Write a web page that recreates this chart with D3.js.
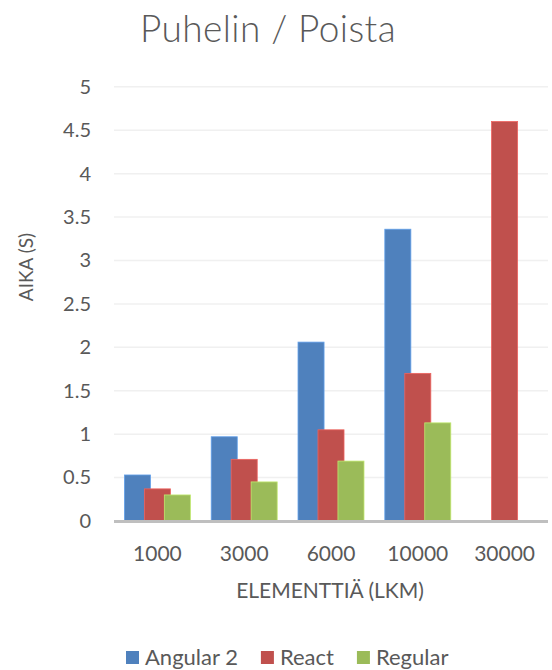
<!DOCTYPE html>
<html>
<head>
<meta charset="utf-8">
<script src="https://cdn.jsdelivr.net/npm/d3@7"></script>
<style>
  html, body { margin: 0; padding: 0; background: #fff; }
  svg text { font-family: Lato, "Open Sans", sans-serif; fill: #595959; }
</style>
</head>
<body>
<div id="chart"></div>
<script>
const title = "Puhelin / Poista";
const categories = ["1000", "3000", "6000", "10000", "30000"];
const seriesNames = ["Angular 2", "React", "Regular"];
const angularValues = [0.53, 0.97, 2.06, 3.36, null];
const reactValues = [0.37, 0.71, 1.05, 1.70, 4.60];
const regularValues = [0.30, 0.45, 0.69, 1.13, null];
const yTicks = [0, 0.5, 1, 1.5, 2, 2.5, 3, 3.5, 4, 4.5, 5];
const xAxisTitle = "ELEMENTTIÄ (LKM)";
const yAxisTitle = "AIKA (S)";

const seriesValues = [angularValues, reactValues, regularValues];
const colors = ["#4F81BD", "#C0504D", "#9BBB59"];

const W = 552, H = 670;
const plot = { left: 114, right: 548, top: 86.8, bottom: 521 };

const svg = d3.select("#chart").append("svg")
  .attr("width", W).attr("height", H);

const x = d3.scaleBand().domain(categories).range([plot.left, plot.right]).padding(0);
const y = d3.scaleLinear().domain([0, 5]).range([plot.bottom, plot.top]);

// Gridlines
svg.append("g").selectAll("line").data(yTicks.filter(d => d > 0)).join("line")
  .attr("x1", plot.left).attr("x2", plot.right)
  .attr("y1", d => y(d)).attr("y2", d => y(d))
  .attr("stroke", "#f0f0f0").attr("stroke-width", 1.5);

// Bars
const bw = x.bandwidth();
const barW = bw * 0.30;
const step = bw * 0.23;
seriesValues.forEach((vals, i) => {
  svg.append("g").selectAll("rect")
    .data(categories.map((c, j) => ({ c, v: vals[j] })).filter(d => d.v != null))
    .join("rect")
    .attr("x", d => x(d.c) + bw / 2 + (i - 1) * step - barW / 2)
    .attr("y", d => y(d.v))
    .attr("width", barW)
    .attr("height", d => y(0) - y(d.v))
    .attr("fill", colors[i])
    .attr("stroke", d3.color(colors[i]).brighter(0.6))
    .attr("stroke-width", 0.8);
});

// Baseline
svg.append("line")
  .attr("x1", plot.left).attr("x2", plot.right)
  .attr("y1", y(0) + 0.5).attr("y2", y(0) + 0.5)
  .attr("stroke", "#bfbfbf").attr("stroke-width", 2.8);

// Y axis labels
const yAxis = d3.axisLeft(y).tickValues(yTicks).tickSize(0).tickPadding(0)
  .tickFormat(d => String(d));
const yg = svg.append("g").attr("transform", `translate(91,0)`).call(yAxis);
yg.select(".domain").remove();
yg.selectAll("text").attr("font-size", 20).attr("fill", "#595959")
  .style("font-family", "Lato, sans-serif");

// X axis labels
const xAxis = d3.axisBottom(x).tickSize(0).tickPadding(0);
const xg = svg.append("g").attr("transform", `translate(0,0)`).call(xAxis);
xg.select(".domain").remove();
xg.selectAll("text").attr("y", 561).attr("dy", null).attr("font-size", 21)
  .attr("fill", "#595959").style("font-family", "Lato, sans-serif");

// Title
svg.append("text").attr("x", 268).attr("y", 42).attr("text-anchor", "middle")
  .attr("font-size", 37).attr("font-weight", 300).attr("letter-spacing", 0.4).text(title);

// Axis titles
svg.append("text").attr("x", 330).attr("y", 598).attr("text-anchor", "middle")
  .attr("font-size", 21).text(xAxisTitle);
svg.append("text").attr("transform", "translate(33,267) rotate(-90)")
  .attr("text-anchor", "middle").attr("font-size", 19).text(yAxisTitle);

// Legend
const legend = svg.append("g");
let lx = 126;
seriesNames.forEach((name, i) => {
  legend.append("rect").attr("x", lx).attr("y", 651).attr("width", 13).attr("height", 13)
    .attr("fill", colors[i]);
  const t = legend.append("text").attr("x", lx + 19).attr("y", 665)
    .attr("font-size", 22).text(name);
  lx += 19 + t.node().getComputedTextLength() + 23;
});
</script>
</body>
</html>
